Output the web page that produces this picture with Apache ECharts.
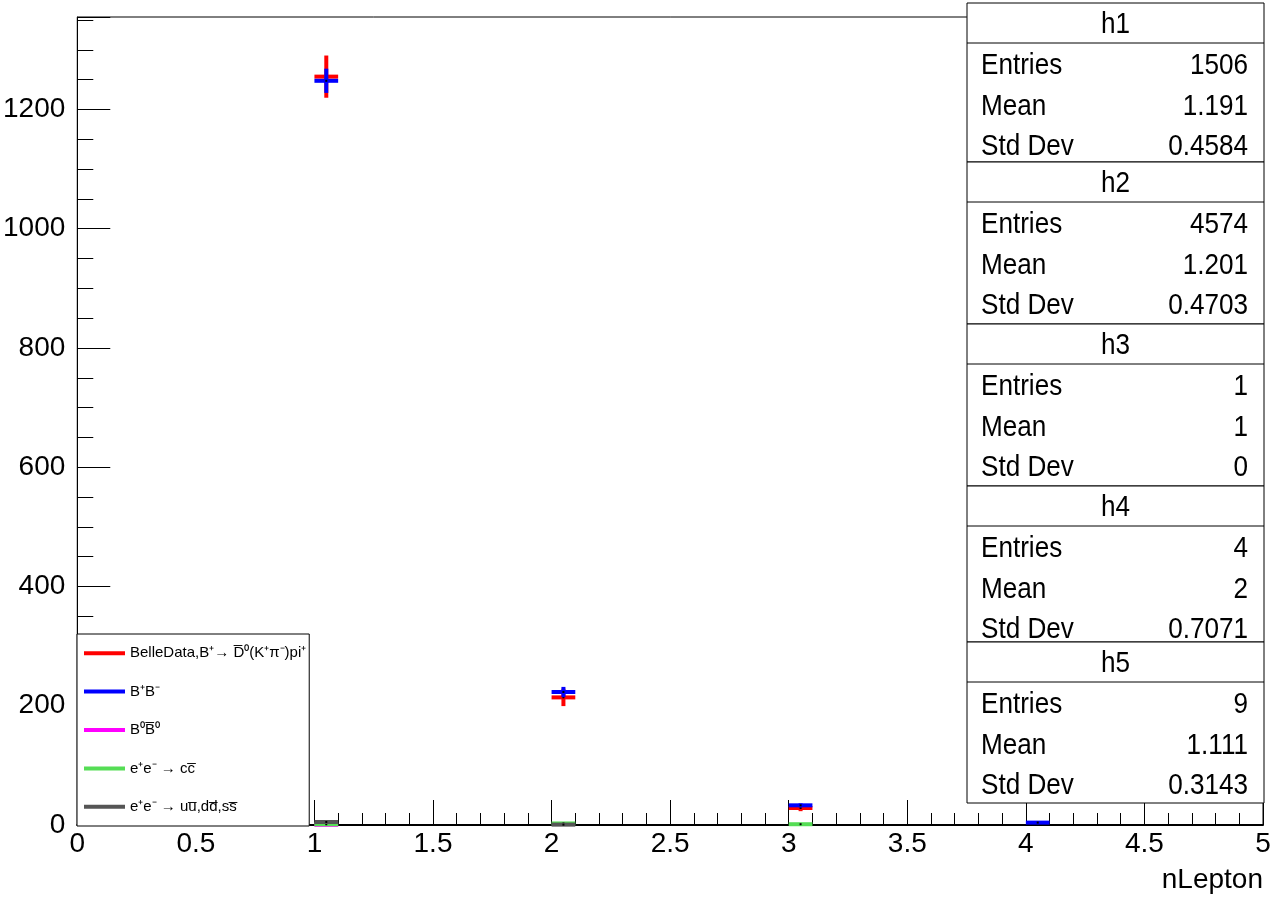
<!DOCTYPE html>
<html><head><meta charset="utf-8">
<script src="https://cdn.jsdelivr.net/npm/echarts@6/dist/echarts.min.js"></script>
<style>html,body{margin:0;padding:0;background:#fff}#c{width:1287px;height:899px}</style>
</head><body><div id="c"></div>
<script>
// ---- data ----
const binWidth = 0.1;
const binLow = [1.0, 2.0, 3.0, 4.0];
const seriesNames = [
  'BelleData,B\u207A\u2192 D\u0305\u2070(K\u207A\u03C0\u207B)pi\u207A',
  'B\u207AB\u207B',
  'B\u2070B\u0305\u2070',
  'e\u207Ae\u207B \u2192 cc\u0305',
  'e\u207Ae\u207B \u2192 uu\u0305,dd\u0305,ss\u0305'
];
const seriesColors = ['#ff0000', '#0000ff', '#ff00ff', '#55dd55', '#555555'];
const h1Values = [1255, 214, 28.5, 0];
const h1Errors = [35.4, 14.6, 5.3, 0];
const h2Values = [1248, 223, 33, 4];
const h2Errors = [20.3, 8.6, 3.3, 1.2];
const h3Values = [0.3, 0, 0, 0];
const h3Errors = [0.3, 0, 0, 0];
const h4Values = [1.3, 2.6, 1.3, 0];
const h4Errors = [1.3, 1.8, 1.3, 0];
const h5Values = [5, 0.6, 0, 0];
const h5Errors = [1.7, 0.6, 0, 0];
const xTicksMajor = 0.5, xTicksMinor = 0.1;
const yTicksMajor = 200, yTicksMinor = 50;
const xMin = 0, xMax = 5, yMin = 0, yMax = 1355;
const xTitle = 'nLepton';
const statNames = ['h1', 'h2', 'h3', 'h4', 'h5'];
const statEntries = ['1506', '4574', '1', '4', '9'];
const statMeans = ['1.191', '1.201', '1', '2', '1.111'];
const statStdDevs = ['0.4584', '0.4703', '0', '0.7071', '0.3143'];

const allValues = [h1Values, h2Values, h3Values, h4Values, h5Values];
const allErrors = [h1Errors, h2Errors, h3Errors, h4Errors, h5Errors];

const FONT = '"Liberation Sans", Arial, sans-serif';

function renderBin(params, api) {
  const lo = api.value(0), v = api.value(1), e = api.value(2);
  const color = api.visual('color');
  const a = api.coord([lo, v]);
  const b = api.coord([lo + binWidth, v]);
  const t = api.coord([lo + binWidth / 2, v + e]);
  const d = api.coord([lo + binWidth / 2, Math.max(0, v - e)]);
  return {
    type: 'group',
    children: [
      { type: 'line', shape: { x1: a[0], y1: a[1], x2: b[0], y2: b[1] }, style: { stroke: color, lineWidth: 4 } },
      { type: 'line', shape: { x1: t[0], y1: t[1], x2: t[0], y2: d[1] }, style: { stroke: color, lineWidth: 4 } },
      { type: 'rect', shape: { x: t[0] - 1, y: a[1] - 1, width: 2, height: 2 }, style: { fill: '#000' } }
    ]
  };
}

const series = seriesNames.map((name, i) => ({
  name: name,
  type: 'custom',
  renderItem: renderBin,
  color: seriesColors[i],
  clip: false,
  z: 3 + i,
  data: binLow.map((lo, k) => [lo, allValues[i][k], allErrors[i][k]]).filter(d => d[1] > 0),
  encode: { x: 0, y: 1 }
}));

// ---- stats boxes ----
const boxLeft = 967, boxRight = 1264;
const boxTops = [3, 162, 324, 486, 642];
const boxBottoms = [162, 324, 486, 642, 803];
const titleH = 40;
const SX = 0.9;
const graphics = [];
statNames.forEach((nm, i) => {
  const top = boxTops[i], bot = boxBottoms[i];
  graphics.push({ type: 'rect', shape: { x: boxLeft, y: top, width: boxRight - boxLeft, height: bot - top },
    style: { fill: '#fff', stroke: '#000', lineWidth: 1 }, z: 100 });
  graphics.push({ type: 'line', shape: { x1: boxLeft, y1: top + titleH, x2: boxRight, y2: top + titleH },
    style: { stroke: '#000', lineWidth: 1 }, z: 101 });
  graphics.push({ type: 'text', x: (boxLeft + boxRight) / 2, y: top + titleH / 2 + 2, scaleX: SX,
    style: { text: nm, font: '29px ' + FONT, fill: '#000', align: 'center', verticalAlign: 'middle' }, z: 102 });
  const rows = [['Entries', statEntries[i]], ['Mean', statMeans[i]], ['Std Dev', statStdDevs[i]]];
  rows.forEach((r, k) => {
    const y = top + titleH + 23 + k * 40.5;
    graphics.push({ type: 'text', x: boxLeft + 14, y: y, scaleX: SX,
      style: { text: r[0], font: '29px ' + FONT, fill: '#000', align: 'left', verticalAlign: 'middle' }, z: 102 });
    graphics.push({ type: 'text', x: boxRight - 16, y: y, scaleX: SX,
      style: { text: r[1], font: '29px ' + FONT, fill: '#000', align: 'right', verticalAlign: 'middle' }, z: 102 });
  });
});

const chart = echarts.init(document.getElementById('c'), null, { renderer: 'canvas' });
const axisText = { fontFamily: FONT, fontSize: 28, color: '#000' };
chart.setOption({
  animation: false,
  backgroundColor: '#fff',
  grid: { left: 77, right: 24, top: 17, bottom: 74, show: true, borderColor: '#000', borderWidth: 1, backgroundColor: '#fff' },
  legend: {
    orient: 'vertical', left: 77, top: 634,
    padding: [0, 3, 0, 7],
    itemWidth: 41, itemHeight: 4, itemGap: 0,
    icon: 'rect', selectedMode: false,
    borderColor: '#000', borderWidth: 1, backgroundColor: '#fff',
    textStyle: { fontFamily: FONT, fontSize: 15, color: '#000', lineHeight: 38.4 },
    data: seriesNames.map(n => ({ name: n, icon: 'rect' })),
    z: 20
  },
  xAxis: [
    { type: 'value', min: xMin, max: xMax, interval: xTicksMajor, position: 'bottom',
      axisLine: { show: true, onZero: false, lineStyle: { color: '#000', width: 2 } },
      axisTick: { show: true, inside: true, length: 25, lineStyle: { color: '#000', width: 1 } },
      axisLabel: Object.assign({ margin: 5 }, axisText),
      splitLine: { show: false },
      name: xTitle, nameLocation: 'end', nameGap: 0,
      nameTextStyle: { fontFamily: FONT, fontSize: 28, color: '#000', align: 'right', verticalAlign: 'top', padding: [41, 0, 0, 0] }
    },
    { type: 'value', min: xMin, max: xMax, interval: xTicksMinor, position: 'bottom',
      axisLine: { show: false }, axisLabel: { show: false }, splitLine: { show: false },
      axisTick: { show: true, inside: true, length: 12, lineStyle: { color: '#000', width: 1 } } }
  ],
  yAxis: [
    { type: 'value', min: yMin, max: yMax, interval: yTicksMajor, position: 'left',
      axisLine: { show: true, onZero: false, lineStyle: { color: '#000', width: 1 } },
      axisTick: { show: true, inside: true, length: 33, lineStyle: { color: '#000', width: 1 } },
      axisLabel: Object.assign({ margin: 12, formatter: v => (v % yTicksMajor === 0 ? String(v) : '') }, axisText),
      splitLine: { show: false } },
    { type: 'value', min: yMin, max: yMax, interval: yTicksMinor, position: 'left',
      axisLine: { show: false }, axisLabel: { show: false }, splitLine: { show: false },
      axisTick: { show: true, inside: true, length: 16, lineStyle: { color: '#000', width: 1 } } }
  ],
  series: series,
  graphic: graphics
});
</script></body></html>
